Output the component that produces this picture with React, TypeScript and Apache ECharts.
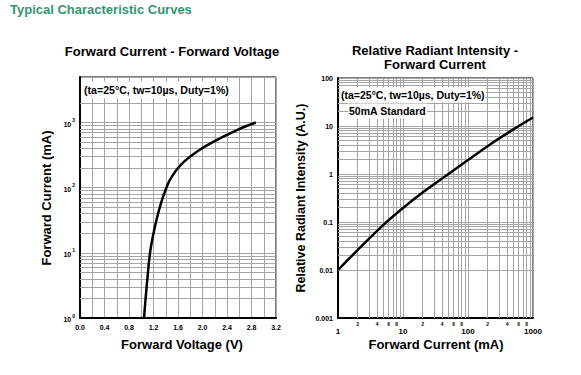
import React, { useEffect, useRef } from 'react';
import * as echarts from 'echarts';

// Left chart: Forward Current vs Forward Voltage
const fvVoltage = [1.045, 1.07, 1.1, 1.143, 1.2, 1.25, 1.3, 1.35, 1.4, 1.45, 1.5, 1.6, 1.7, 1.8, 2.0, 2.2, 2.4, 2.6, 2.87];
const fvCurrent = [1, 1.95, 4, 10, 20, 32.4, 49, 70, 94, 122, 148, 200, 251, 302, 407, 519, 646, 794, 1000];

// Right chart: Relative Radiant Intensity vs Forward Current
const riCurrent = [1, 2, 5, 10, 20, 50, 100, 200, 500, 1000];
const riIntensity = [0.01, 0.026, 0.087, 0.195, 0.41, 1, 1.95, 3.8, 8.5, 15];

// Minor grid values
const leftYMinor = [2, 3, 4, 5, 6, 7, 8, 9, 20, 30, 40, 50, 60, 70, 80, 90, 200, 300, 400, 500, 600, 700, 800, 900, 2000];
const rightXMinor = [2, 3, 4, 5, 6, 7, 8, 9, 20, 30, 40, 50, 60, 70, 80, 90, 200, 300, 400, 500, 600, 700, 800, 900];
const rightXMinorLabels = [2, 4, 6, 8, 20, 40, 60, 80, 200, 400, 600, 800];
const rightYMinor = [
  0.002, 0.003, 0.004, 0.005, 0.006, 0.007, 0.008, 0.009,
  0.02, 0.03, 0.04, 0.05, 0.06, 0.07, 0.08, 0.09,
  0.2, 0.3, 0.4, 0.5, 0.6, 0.7, 0.8, 0.9,
  2, 3, 4, 5, 6, 7, 8, 9,
  20, 30, 40, 50, 60, 70, 80, 90,
];
const rightYLabels = ['0.001', '0.01', '0.1', '1', '10', '100'];

const GRID = '#a4a4a4';
const FONT = 'Arial, "Liberation Sans", sans-serif';
const TEAL = '#33966e';

export default function App() {
  const ref = useRef<HTMLDivElement>(null);
  useEffect(() => {
    if (!ref.current) return;
    const chart = echarts.init(ref.current, null, { renderer: 'svg' });
    const minorLine = { color: GRID, width: 1, type: 'solid' as const };
    const labelBase = { fontFamily: FONT, fontWeight: 'bold' as const, color: '#000' };
    const option: any = {
      animation: false,
      backgroundColor: '#fff',
      textStyle: { fontFamily: FONT },
      grid: [
        { left: 80, top: 77, width: 196, height: 241, show: true, borderColor: '#000', borderWidth: 1, backgroundColor: '#fff' },
        { left: 338, top: 78, width: 195, height: 240, show: true, borderColor: '#000', borderWidth: 1, backgroundColor: '#fff' },
      ],
      xAxis: [
        {
          gridIndex: 0, type: 'value', min: 0, max: 3.2, interval: 0.4,
          axisLine: { show: true, onZero: false, lineStyle: { color: '#000', width: 2 } },
          axisTick: { show: false },
          axisLabel: { ...labelBase, fontSize: 7, margin: 6, formatter: (v: number) => v.toFixed(1) },
          splitLine: { show: true, lineStyle: { color: GRID, width: 1 } },
          minorTick: { show: false, splitNumber: 2 },
          minorSplitLine: { show: true, lineStyle: { color: GRID, width: 1 } },
        },
        {
          gridIndex: 1, type: 'log', logBase: 10, min: 1, max: 1000,
          axisLine: { show: true, onZero: false, lineStyle: { color: '#000', width: 2 } },
          axisTick: { show: false },
          axisLabel: { ...labelBase, fontSize: 8, margin: 9, formatter: (v: number) => String(Math.round(v)) },
          splitLine: { show: true, lineStyle: { color: GRID, width: 1 } },
        },
      ],
      yAxis: [
        {
          gridIndex: 0, type: 'log', logBase: 10, min: 1, max: 5000,
          axisLine: { show: true, onZero: false, lineStyle: { color: '#000', width: 2 } },
          axisTick: { show: false },
          axisLabel: {
            margin: 5,
            formatter: (v: number) => {
              const e = Math.log10(v);
              if (Math.abs(e - Math.round(e)) > 1e-6) return '';
              return `{b|10}{s|${Math.round(e)}}`;
            },
            rich: {
              b: { ...labelBase, fontSize: 7, lineHeight: 10, verticalAlign: 'bottom' },
              s: { ...labelBase, fontSize: 5, lineHeight: 10, verticalAlign: 'top', padding: [0, 0, 0, 1] },
            },
          },
          splitLine: { show: true, lineStyle: { color: GRID, width: 1 } },
        },
        {
          gridIndex: 1, type: 'log', logBase: 10, min: 0.001, max: 100,
          axisLine: { show: true, onZero: false, lineStyle: { color: '#000', width: 2 } },
          axisTick: { show: false },
          axisLabel: {
            ...labelBase, fontSize: 7, margin: 5,
            formatter: (v: number) => rightYLabels[Math.round(Math.log10(v)) + 3] ?? '',
          },
          splitLine: { show: true, lineStyle: { color: GRID, width: 1 } },
        },
      ],
      series: [
        {
          type: 'line', xAxisIndex: 0, yAxisIndex: 0, data: [], z: 1, silent: true,
          markLine: {
            silent: true, symbol: 'none', animation: false,
            label: { show: false }, lineStyle: minorLine,
            data: leftYMinor.map((v) => ({ yAxis: v })),
          },
        },
        {
          type: 'line', xAxisIndex: 1, yAxisIndex: 1, data: [], z: 1, silent: true,
          markLine: {
            silent: true, symbol: 'none', animation: false,
            label: { show: false }, lineStyle: minorLine,
            data: rightYMinor.map((v) => ({ yAxis: v })),
          },
        },
        {
          type: 'line', xAxisIndex: 1, yAxisIndex: 1, data: [], z: 1, silent: true,
          markLine: {
            silent: true, symbol: 'none', animation: false,
            lineStyle: minorLine,
            label: { show: false },
            data: rightXMinor.map((v) => {
              const showLbl = rightXMinorLabels.includes(v);
              const txt = String(v / Math.pow(10, Math.floor(Math.log10(v) + 1e-9)));
              return {
                xAxis: v,
                label: showLbl
                  ? { show: true, position: 'start', distance: 3, formatter: txt, ...labelBase, fontSize: 5 }
                  : { show: false },
              };
            }),
          },
        },
        {
          type: 'line', xAxisIndex: 0, yAxisIndex: 0, z: 5, smooth: 0.3,
          showSymbol: false, symbol: 'none',
          lineStyle: { color: '#000', width: 2.5 },
          data: fvVoltage.map((v, i) => [v, fvCurrent[i]]),
        },
        {
          type: 'line', xAxisIndex: 1, yAxisIndex: 1, z: 5, smooth: 0.3,
          showSymbol: false, symbol: 'none',
          lineStyle: { color: '#000', width: 2.5 },
          data: riCurrent.map((v, i) => [v, riIntensity[i]]),
        },
      ],
      graphic: [
        { type: 'text', z: 100, left: 10, top: 3, style: { text: 'Typical Characteristic Curves', fill: TEAL, font: `bold 13px ${FONT}` } },
        { type: 'text', z: 100, x: 172, y: 51, style: { text: 'Forward Current - Forward Voltage', fill: '#000', font: `bold 13px ${FONT}`, align: 'center', verticalAlign: 'middle' } },
        { type: 'text', z: 100, x: 435, y: 50, style: { text: 'Relative Radiant Intensity -', fill: '#000', font: `bold 13px ${FONT}`, align: 'center', verticalAlign: 'middle' } },
        { type: 'text', z: 100, x: 435, y: 64, style: { text: 'Forward Current', fill: '#000', font: `bold 13px ${FONT}`, align: 'center', verticalAlign: 'middle' } },
        { type: 'text', z: 100, x: 182, y: 344, style: { text: 'Forward Voltage (V)', fill: '#000', font: `bold 13px ${FONT}`, align: 'center', verticalAlign: 'middle' } },
        { type: 'text', z: 100, x: 436, y: 344, style: { text: 'Forward Current (mA)', fill: '#000', font: `bold 13px ${FONT}`, align: 'center', verticalAlign: 'middle' } },
        { type: 'text', z: 100, x: 46, y: 198, rotation: Math.PI / 2, style: { text: 'Forward Current (mA)', fill: '#000', font: `bold 13px ${FONT}`, align: 'center', verticalAlign: 'middle' } },
        { type: 'text', z: 100, x: 301, y: 198, rotation: Math.PI / 2, style: { text: 'Relative Radiant Intensity (A.U.)', fill: '#000', font: `bold 12.5px ${FONT}`, align: 'center', verticalAlign: 'middle' } },
        { type: 'text', z: 100, x: 83, y: 90, style: { text: '(ta=25°C, tw=10µs, Duty=1%)', fill: '#000', font: `bold 10.6px ${FONT}`, verticalAlign: 'middle', backgroundColor: '#fff', padding: [3, 1, 3, 1] } },
        { type: 'text', z: 100, x: 340, y: 95, style: { text: '(ta=25°C, tw=10µs, Duty=1%)', fill: '#000', font: `bold 10.5px ${FONT}`, verticalAlign: 'middle', backgroundColor: '#fff', padding: [2, 1, 2, 1] } },
        { type: 'text', z: 100, x: 348, y: 111, style: { text: '50mA Standard', fill: '#000', font: `bold 10.5px ${FONT}`, verticalAlign: 'middle', backgroundColor: '#fff', padding: [2, 1, 2, 1] } },
      ],
    };
    chart.setOption(option);
    return () => chart.dispose();
  }, []);
  return <div ref={ref} style={{ width: 581, height: 375, position: 'absolute', left: 0, top: 0 }} />;
}
